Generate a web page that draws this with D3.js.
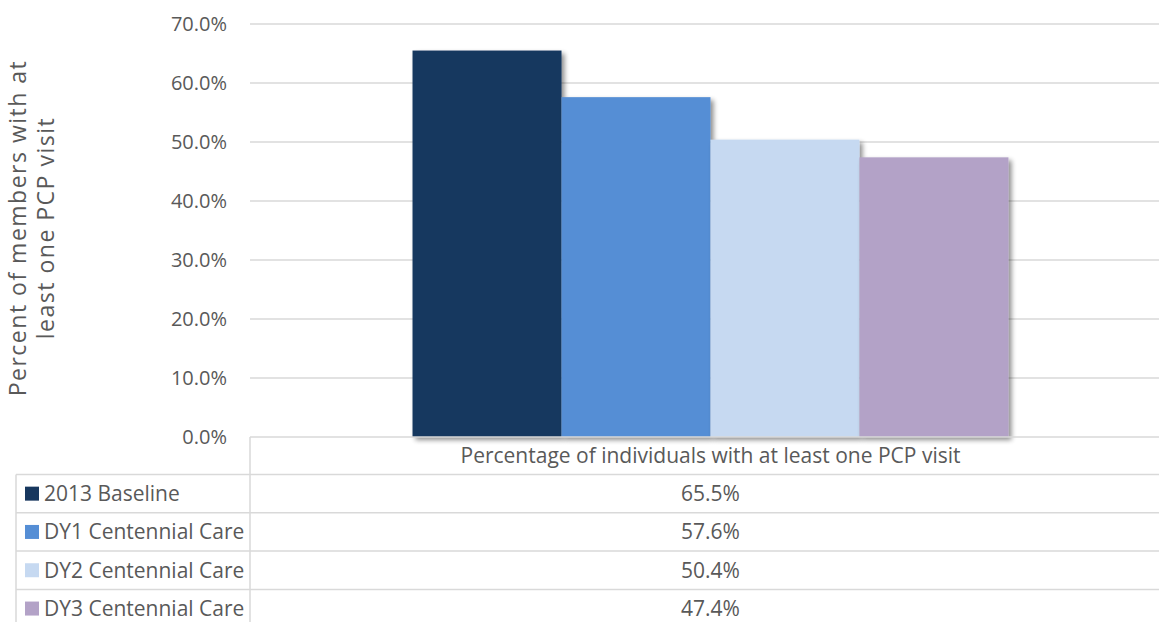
<!DOCTYPE html>
<html><head><meta charset="utf-8">
<script src="https://cdn.jsdelivr.net/npm/d3@7"></script>
<style>body{margin:0;background:#fff}svg{display:block}text{font-family:"Open Sans",sans-serif;fill:#595959}</style>
</head><body><svg id="c" width="1159" height="622"></svg>
<script>
const category = "Percentage of individuals with at least one PCP visit";
const series = ["2013 Baseline","DY1 Centennial Care","DY2 Centennial Care","DY3 Centennial Care"];
const values = [0.655,0.576,0.504,0.474];
const labels = ["65.5%","57.6%","50.4%","47.4%"];
const colors = ["#17375E","#558ED5","#C6D9F1","#B3A2C7"];
const yTicks = [0,0.1,0.2,0.3,0.4,0.5,0.6,0.7];

(function(){
const svg = d3.select("#c");
const pLeft=250, pRight=1171, pTop=24, pBottom=437;
const defs = svg.append("defs");
const f = defs.append("filter").attr("id","sh").attr("x","-10%").attr("y","-10%").attr("width","130%").attr("height","130%");
f.append("feGaussianBlur").attr("in","SourceAlpha").attr("stdDeviation",2.5);
f.append("feOffset").attr("dx",3).attr("dy",3).attr("result","o");
f.append("feComponentTransfer").append("feFuncA").attr("type","linear").attr("slope",0.45);
const m=f.append("feMerge"); m.append("feMergeNode"); m.append("feMergeNode").attr("in","SourceGraphic");

const y = d3.scaleLinear().domain([0,0.7]).range([pBottom,pTop]);
const x0 = d3.scaleBand().domain([category]).range([pLeft,pRight]).paddingInner(0).paddingOuter(0.2727);
const x1 = d3.scaleBand().domain(series).range([0,x0.bandwidth()]);

svg.append("g").selectAll("line").data(yTicks.slice(1)).join("line")
  .attr("x1",pLeft).attr("x2",1159).attr("y1",d=>y(d)).attr("y2",d=>y(d))
  .attr("stroke","#d9d9d9").attr("stroke-width",1.5);

const yAxis = svg.append("g").attr("transform",`translate(${pLeft},0)`)
  .call(d3.axisLeft(y).tickValues(yTicks).tickFormat(d3.format(".1%")).tickSize(0).tickPadding(23));
yAxis.select(".domain").remove();
yAxis.selectAll("text").style("font-size","20px").style("font-family","'Open Sans',sans-serif").attr("fill","#595959");

svg.append("g").selectAll("rect").data(series).join("rect")
  .attr("x",d=>x0(category)+x1(d)).attr("width",x1.bandwidth())
  .attr("y",(d,i)=>y(values[i])).attr("height",(d,i)=>y(0)-y(values[i]))
  .attr("fill",(d,i)=>colors[i]).attr("filter","url(#sh)");

const rowH=38.3, tTop=pBottom, hdrH=37.5, tLeft=16;
const g = svg.append("g").attr("stroke","#d9d9d9").attr("stroke-width",1.5);
g.append("line").attr("x1",pLeft).attr("x2",1159).attr("y1",tTop).attr("y2",tTop);
g.append("line").attr("x1",pLeft).attr("x2",pLeft).attr("y1",tTop).attr("y2",622);
series.forEach((s,i)=>{
  const yy=tTop+hdrH+i*rowH;
  g.append("line").attr("x1",tLeft).attr("x2",1159).attr("y1",yy).attr("y2",yy);
});
g.append("line").attr("x1",tLeft).attr("x2",tLeft).attr("y1",tTop+hdrH).attr("y2",622);

const cx = x0(category)+x0.bandwidth()/2;
svg.append("text").attr("x",cx).attr("y",tTop+hdrH/2).attr("dy","0.35em").attr("text-anchor","middle")
  .style("font-size","21px").text(category);
series.forEach((s,i)=>{
  const cy=tTop+hdrH+i*rowH+rowH/2;
  svg.append("rect").attr("x",25).attr("y",cy-7).attr("width",14).attr("height",14).attr("fill",colors[i]);
  svg.append("text").attr("x",44).attr("y",cy).attr("dy","0.35em").style("font-size","21px").text(s);
  svg.append("text").attr("x",cx).attr("y",cy).attr("dy","0.35em").attr("text-anchor","middle").style("font-size","21px").text(labels[i]);
});

const t = svg.append("text").attr("transform","translate(34,228) rotate(-90)").attr("text-anchor","middle")
  .style("font-size","23px").style("letter-spacing","1.5px");
t.append("tspan").attr("x",0).attr("dy","-0.35em").text("Percent of members with at");
t.append("tspan").attr("x",0).attr("dy","1.22em").text("least one PCP visit");
})();
</script></body></html>
